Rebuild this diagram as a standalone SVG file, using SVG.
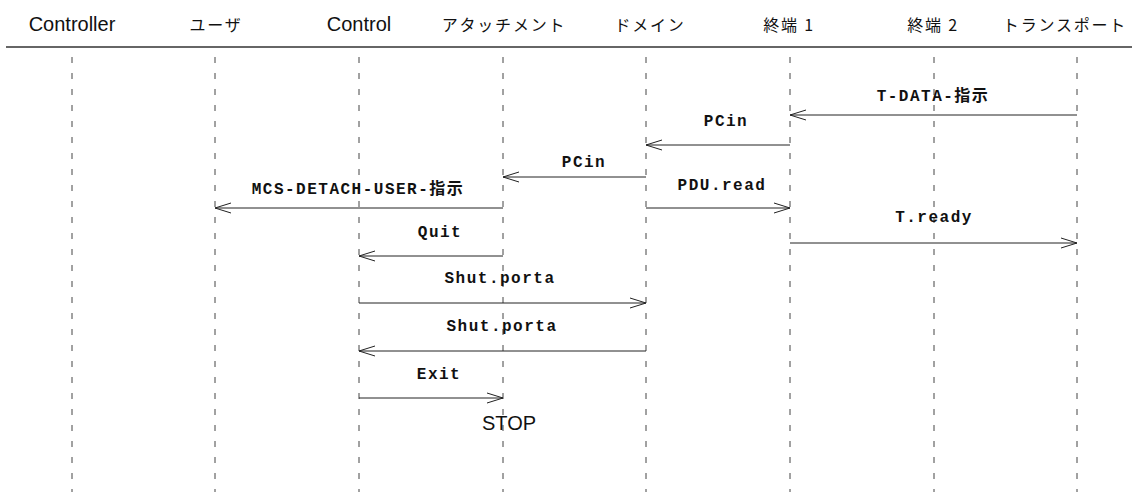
<svg xmlns="http://www.w3.org/2000/svg" width="1132" height="492" viewBox="0 0 1132 492">
<style>
.hd{font-family:"Liberation Sans",Arial,sans-serif;font-size:20px;fill:#111;text-anchor:middle}
.hj{font-family:"Noto Sans CJK JP","Liberation Sans",sans-serif;font-size:16px;fill:#111;text-anchor:middle;letter-spacing:1.8px}
.ll{stroke:#444;stroke-width:1;stroke-dasharray:6 10}
.msg{stroke:#222;stroke-width:1;fill:none;marker-end:url(#ah)}
.lb{font-family:"Liberation Mono","Courier New","Noto Sans CJK JP",monospace;font-weight:bold;font-size:16px;letter-spacing:1.5px;fill:#111;text-anchor:middle}
.stop{font-family:"Liberation Sans",Arial,sans-serif;font-size:20px;fill:#111;text-anchor:middle}
</style>
<defs>
<marker id="ah" markerUnits="userSpaceOnUse" markerWidth="20" markerHeight="14" refX="17" refY="6" orient="auto" overflow="visible">
<path d="M1,1 L17,6 L1,11" fill="none" stroke="#222" stroke-width="1"/>
</marker>
</defs>
<rect width="1132" height="492" fill="#fff"/>
<line x1="6" y1="47" x2="1132" y2="47" stroke="#333" stroke-width="1.6"/>
<g id="controller"><text class="hd" x="72" y="31">Controller</text><line class="ll" x1="72" y1="57" x2="72" y2="492"/></g>
<g id="user"><text class="hj" x="216" y="31">ユーザ</text><line class="ll" x1="215" y1="57" x2="215" y2="492"/></g>
<g id="control"><text class="hd" x="359" y="31">Control</text><line class="ll" x1="359" y1="57" x2="359" y2="492"/></g>
<g id="attachment"><text class="hj" x="504" y="31">アタッチメント</text><line class="ll" x1="503" y1="57" x2="503" y2="492"/></g>
<g id="domain"><text class="hj" x="650" y="31">ドメイン</text><line class="ll" x1="646" y1="57" x2="646" y2="492"/></g>
<g id="term1"><text class="hj" x="789" y="31">終端 1</text><line class="ll" x1="790" y1="57" x2="790" y2="492"/></g>
<g id="term2"><text class="hj" x="933" y="31">終端 2</text><line class="ll" x1="934" y1="57" x2="934" y2="492"/></g>
<g id="transport"><text class="hj" x="1065" y="31">トランスポート</text><line class="ll" x1="1077" y1="57" x2="1077" y2="492"/></g>
<g id="connectors">
<line class="msg" x1="1077" y1="115" x2="790" y2="115"/>
<text class="lb" x="933" y="101">T-DATA-指示</text>
<line class="msg" x1="790" y1="145" x2="646" y2="145"/>
<text class="lb" x="726" y="126">PCin</text>
<line class="msg" x1="646" y1="177" x2="503" y2="177"/>
<text class="lb" x="584" y="167">PCin</text>
<line class="msg" x1="503" y1="208" x2="215" y2="208"/>
<text class="lb" x="358" y="194">MCS-DETACH-USER-指示</text>
<line class="msg" x1="646" y1="208" x2="790" y2="208"/>
<text class="lb" x="722" y="190">PDU.read</text>
<line class="msg" x1="790" y1="243" x2="1077" y2="243"/>
<text class="lb" x="934" y="222">T.ready</text>
<line class="msg" x1="503" y1="256" x2="359" y2="256"/>
<text class="lb" x="440" y="237">Quit</text>
<line class="msg" x1="359" y1="303" x2="646" y2="303"/>
<text class="lb" x="500" y="283">Shut.porta</text>
<line class="msg" x1="646" y1="351" x2="359" y2="351"/>
<text class="lb" x="502" y="331">Shut.porta</text>
<line class="msg" x1="359" y1="398" x2="503" y2="398"/>
<text class="lb" x="439" y="379">Exit</text>
</g>
<text class="stop" x="509" y="430">STOP</text>
</svg>
